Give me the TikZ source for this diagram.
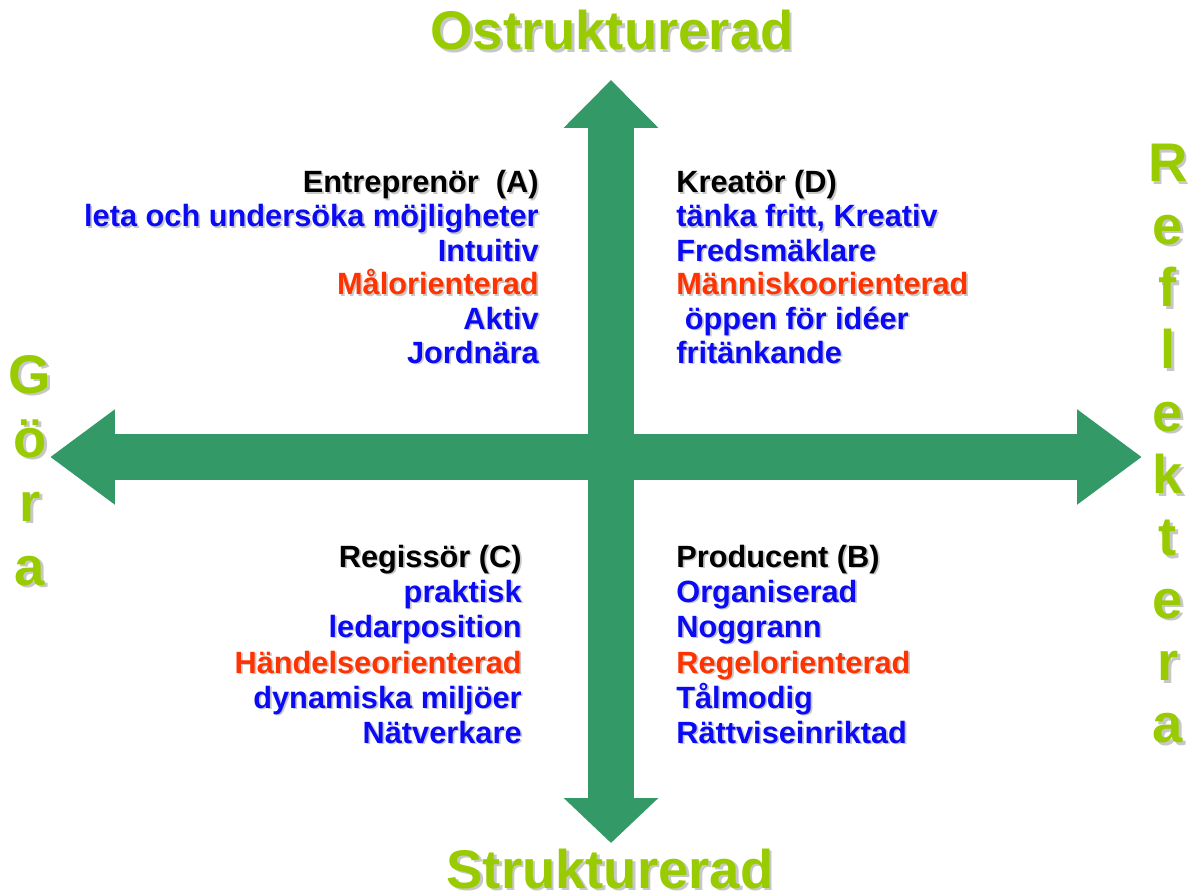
\documentclass[tikz,border=0pt]{standalone}
\usepackage{fontspec}
\setmainfont{Liberation Sans}
\usetikzlibrary{arrows.meta}
\definecolor{axisgreen}{RGB}{51,153,102}
\definecolor{titlegreen}{RGB}{153,204,0}
\definecolor{itemblue}{RGB}{10,10,245}
\definecolor{itemred}{RGB}{255,51,0}
% text with a soft grey drop shadow
\newcommand\shtxt[3][1pt]{\makebox[0pt][l]{\kern#1\raisebox{-#1}{\textcolor{black!22}{#3}}}\textcolor{#2}{#3}}
\tikzset{
	axis/.style={draw=axisgreen, line width=0.92cm},
	title/.style={font=\fontsize{31}{36}\selectfont\bfseries, inner sep=0pt},
	item/.style={font=\fontsize{17.5}{20}\selectfont\bfseries, inner sep=0pt},
}

\begin{document}
\begin{tikzpicture}[x=0.02cm, y=-0.02cm]
		%%%%% START %%%%%
		\useasboundingbox (0,0) rectangle (1193,895);
		
		\coordinate (top) at (611,80);
		\coordinate (bottom) at (611,843);
		\coordinate (left) at (50,457);
		\coordinate (right) at (1142,457);
		\draw[axis, {Triangle[length=0.96cm,width=1.84cm]}-{Triangle[length=0.9cm,width=1.84cm]}] (top) -- (bottom);
		\draw[axis, {Triangle[length=1.3cm,width=1.82cm]}-{Triangle[length=1.3cm,width=1.82cm]}] (left) -- (right);
		
		\node[title, anchor=base] (ostr) at (612,50) {\shtxt[1.5pt]{titlegreen}{Ostrukturerad}};
		\node[title, anchor=base] (str) at (610,888) {\shtxt[1.5pt]{titlegreen}{Strukturerad}};
		\foreach \ch [count=\i from 0] in {G,ö,r,a}
			\node[title, anchor=base] (g\i) at (30,393+64*\i) {\shtxt[1.5pt]{titlegreen}{\ch}};
		\foreach \ch [count=\i from 0] in {R,e,f,l,e,k,t,e,r,a}
			\node[title, anchor=base] (r\i) at (1168,182+62.3*\i) {\shtxt[1.5pt]{titlegreen}{\ch}};
		
		% A
		\node[item, anchor=base east] (a0) at (539,193) {\shtxt{black}{Entreprenör\ \ (A)}};
		\node[item, anchor=base east] (a1) at (539,227) {\shtxt{itemblue}{leta och undersöka möjligheter}};
		\node[item, anchor=base east] (a2) at (539,261) {\shtxt{itemblue}{Intuitiv}};
		\node[item, anchor=base east] (a3) at (539,295) {\shtxt{itemred}{Målorienterad}};
		\node[item, anchor=base east] (a4) at (539,329) {\shtxt{itemblue}{Aktiv}};
		\node[item, anchor=base east] (a5) at (539,363) {\shtxt{itemblue}{Jordnära}};
		
		% D
		\node[item, anchor=base west] (d0) at (676,193) {\shtxt{black}{Kreatör (D)}};
		\node[item, anchor=base west] (d1) at (676,227) {\shtxt{itemblue}{tänka fritt, Kreativ}};
		\node[item, anchor=base west] (d2) at (676,261) {\shtxt{itemblue}{Fredsmäklare}};
		\node[item, anchor=base west] (d3) at (676,295) {\shtxt{itemred}{Människoorienterad}};
		\node[item, anchor=base west] (d4) at (676,329) {\shtxt{itemblue}{~öppen för idéer}};
		\node[item, anchor=base west] (d5) at (676,363) {\shtxt{itemblue}{fritänkande}};
		
		% C
		\node[item, anchor=base east] (c0) at (522,567) {\shtxt{black}{Regissör (C)}};
		\node[item, anchor=base east] (c1) at (522,602) {\shtxt{itemblue}{praktisk}};
		\node[item, anchor=base east] (c2) at (522,637) {\shtxt{itemblue}{ledarposition}};
		\node[item, anchor=base east] (c3) at (522,673) {\shtxt{itemred}{Händelseorienterad}};
		\node[item, anchor=base east] (c4) at (522,708) {\shtxt{itemblue}{dynamiska miljöer}};
		\node[item, anchor=base east] (c5) at (522,743) {\shtxt{itemblue}{Nätverkare}};
		
		% B
		\node[item, anchor=base west] (b0) at (676,567) {\shtxt{black}{Producent (B)}};
		\node[item, anchor=base west] (b1) at (676,602) {\shtxt{itemblue}{Organiserad}};
		\node[item, anchor=base west] (b2) at (676,637) {\shtxt{itemblue}{Noggrann}};
		\node[item, anchor=base west] (b3) at (676,673) {\shtxt{itemred}{Regelorienterad}};
		\node[item, anchor=base west] (b4) at (676,708) {\shtxt{itemblue}{Tålmodig}};
		\node[item, anchor=base west] (b5) at (676,743) {\shtxt{itemblue}{Rättviseinriktad}};
		
		%%%%% END %%%%%
	\end{tikzpicture}
\end{document}
